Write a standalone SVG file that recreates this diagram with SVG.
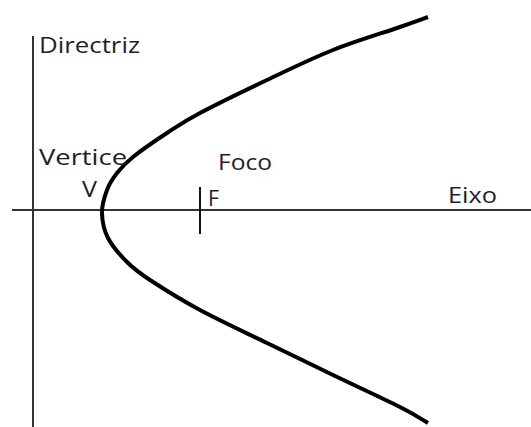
<svg xmlns="http://www.w3.org/2000/svg" width="531" height="427" viewBox="0 0 531 427">
<style>
.axis{stroke:#333;stroke-width:2;fill:none}
.curve{stroke:#000;stroke-width:4;fill:none;stroke-linecap:butt;stroke-linejoin:round}
.lbl{font-family:"Open Sans","Liberation Sans",sans-serif;font-size:22.5px;fill:#1e1e2a}
</style>
<rect width="531" height="427" fill="#fff"/>
<g id="axes">
<line id="directriz-line" class="axis" x1="33" y1="36" x2="33" y2="427"/>
<line id="eixo-line" class="axis" x1="12" y1="210" x2="531" y2="210"/>
<line id="foco-tick" class="axis" x1="200" y1="187" x2="200" y2="234" style="stroke:#111"/>
</g>
<g id="parabola">
<path class="curve" d="M428 17 C423.3 18.7 415.8 21.5 400 27 C384.2 32.5 355.2 41.2 333 50 C310.8 58.8 289.2 69.5 267 80 C244.8 90.5 216.7 104.2 200 113 C183.3 121.8 178.2 125.7 167 133 C155.8 140.3 141.3 150.3 133 157 C124.7 163.7 121.3 167.5 117 173 C112.7 178.5 109.5 183.3 107 190 C104.5 196.7 101.8 205 102 213 C102.2 221 103.8 229.8 108 238 C112.2 246.2 120 255 127 262 C134 269 137.8 272 150 280 C162.2 288 180.5 299.5 200 310 C219.5 320.5 244.8 332.2 267 343 C289.2 353.8 310.8 364.3 333 375 C355.2 385.7 384.2 399 400 407 C415.8 415 423.3 420.3 428 423"/>
</g>
<g id="labels">
<text id="t-directriz" class="lbl" x="39" y="53" textLength="101" lengthAdjust="spacingAndGlyphs">Directriz</text>
<text id="t-vertice" class="lbl" x="39" y="165" textLength="88" lengthAdjust="spacingAndGlyphs">Vertice</text>
<text id="t-v" class="lbl" x="82" y="197" textLength="15" lengthAdjust="spacingAndGlyphs">V</text>
<text id="t-foco" class="lbl" x="218" y="170" textLength="54" lengthAdjust="spacingAndGlyphs">Foco</text>
<text id="t-f" class="lbl" x="208" y="206" textLength="11" lengthAdjust="spacingAndGlyphs">F</text>
<text id="t-eixo" class="lbl" x="448" y="203" textLength="49" lengthAdjust="spacingAndGlyphs">Eixo</text>
</g>
</svg>
